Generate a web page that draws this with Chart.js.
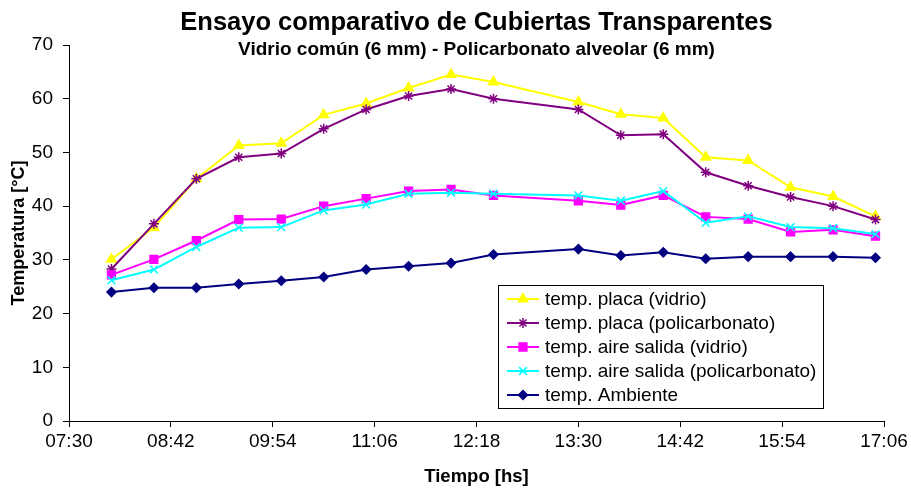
<!DOCTYPE html>
<html lang="es">
<head>
<meta charset="utf-8">
<title>Ensayo comparativo de Cubiertas Transparentes</title>
<script src="https://cdn.jsdelivr.net/npm/chart.js@4.4.1/dist/chart.umd.min.js"></script>
<style>
  html, body { margin: 0; padding: 0; background: #ffffff; }
  #contenedor { width: 911px; height: 488px; position: relative; }
</style>
</head>
<body>
<div id="contenedor"><canvas id="grafico" width="911" height="488"></canvas></div>
<script>
// Horas de medición (HH:MM)
const horas = ['08:00', '08:30', '09:00', '09:30', '10:00', '10:30', '11:00', '11:30', '12:00',
  '12:30', '13:30', '14:00', '14:30', '15:00', '15:30', '16:00', '16:30', '17:00'];

// Temperaturas [°C] de cada serie
const placaVidrio = [30.1, 36.0, 45.1, 51.3, 51.7, 57.0, 59.1, 62.0, 64.5, 63.1, 59.4, 57.1, 56.4, 49.1, 48.5, 43.5, 41.8, 38.1];
const placaPolicarbonato = [28.3, 36.7, 45.1, 49.1, 49.8, 54.4, 58.0, 60.5, 61.8, 60.0, 58.0, 53.2, 53.4, 46.3, 43.8, 41.7, 40.0, 37.5];
const aireVidrio = [27.2, 30.1, 33.6, 37.5, 37.6, 40.0, 41.4, 42.8, 43.1, 42.0, 41.0, 40.2, 42.0, 38.0, 37.6, 35.2, 35.6, 34.4];
const airePolicarbonato = [26.2, 28.2, 32.4, 36.0, 36.1, 39.2, 40.3, 42.3, 42.5, 42.3, 42.0, 41.0, 42.8, 36.9, 38.1, 36.1, 35.9, 34.8];
const ambiente = [24.0, 24.8, 24.8, 25.5, 26.1, 26.8, 28.2, 28.8, 29.4, 31.0, 32.0, 30.8, 31.4, 30.2, 30.6, 30.6, 30.6, 30.4];

// Eje X: de 07:30 a 17:06 cada 1:12
const ejeXInicio = '07:30';
const ejeXFin = '17:06';
const ejeXPaso = 72; // minutos

// Nombres de las series
const nombres = ['temp. placa (vidrio)', 'temp. placa (policarbonato)', 'temp. aire salida (vidrio)',
  'temp. aire salida (policarbonato)', 'temp. Ambiente'];

const fuente = "'Liberation Sans', Arial, sans-serif";

function aMinutos(hhmm) {
  const partes = hhmm.split(':');
  return parseInt(partes[0]) * 60 + parseInt(partes[1]);
}

function aHora(min) {
  const h = Math.floor(min / 60);
  const m = Math.round(min % 60);
  return String(h).padStart(2, '0') + ':' + String(m).padStart(2, '0');
}

function puntos(valores) {
  return valores.map((v, i) => ({ x: aMinutos(horas[i]), y: v }));
}

function serie(indice, valores, color, estilo, radio, orden) {
  return {
    label: nombres[indice],
    data: puntos(valores),
    borderColor: color,
    backgroundColor: color,
    borderWidth: 2,
    pointStyle: estilo,
    pointRadius: radio,
    pointHoverRadius: radio,
    pointBorderWidth: 1.5,
    pointBorderColor: color,
    pointBackgroundColor: color,
    order: orden,
    tension: 0
  };
}

// Títulos dibujados a mano (el subtítulo se superpone al área del gráfico)
const titulosPlugin = {
  id: 'titulos',
  afterDraw(chart) {
    const ctx = chart.ctx;
    const centro = (chart.chartArea.left + chart.chartArea.right) / 2;
    ctx.save();
    ctx.fillStyle = '#000000';
    ctx.textAlign = 'center';
    ctx.textBaseline = 'alphabetic';
    ctx.font = 'bold 25.5px ' + fuente;
    ctx.fillText('Ensayo comparativo de Cubiertas Transparentes', centro, 30);
    ctx.font = 'bold 19px ' + fuente;
    ctx.fillText('Vidrio común (6 mm) - Policarbonato alveolar (6 mm)', centro, 55);
    ctx.restore();
  }
};

// Leyenda con recuadro dentro del área del gráfico
const leyendaPlugin = {
  id: 'leyendaCaja',
  afterDraw(chart) {
    const ctx = chart.ctx;
    const caja = { x: 498.5, y: 285.5, w: 325, h: 123 };
    ctx.save();
    ctx.fillStyle = '#ffffff';
    ctx.fillRect(caja.x, caja.y, caja.w, caja.h);
    ctx.strokeStyle = '#000000';
    ctx.lineWidth = 1;
    ctx.strokeRect(caja.x, caja.y, caja.w, caja.h);
    chart.data.datasets.forEach((ds, i) => {
      const y = 299 + i * 24;
      ctx.strokeStyle = ds.borderColor;
      ctx.lineWidth = 2;
      ctx.beginPath();
      ctx.moveTo(507, y);
      ctx.lineTo(539, y);
      ctx.stroke();
      const opciones = {
        pointStyle: ds.pointStyle,
        radius: ds.pointRadius,
        borderWidth: ds.pointBorderWidth,
        rotation: 0
      };
      ctx.fillStyle = ds.backgroundColor;
      ctx.strokeStyle = ds.borderColor;
      ctx.lineWidth = ds.pointBorderWidth;
      Chart.helpers.drawPoint(ctx, opciones, 523, y);
      ctx.fillStyle = '#000000';
      ctx.font = '19px ' + fuente;
      ctx.textAlign = 'left';
      ctx.textBaseline = 'middle';
      ctx.fillText(ds.label, 545, y + 1);
    });
    ctx.restore();
  }
};

const ctx = document.getElementById('grafico').getContext('2d');
const chart = new Chart(ctx, {
  type: 'line',
  data: {
    datasets: [
      serie(0, placaVidrio, '#ffff00', 'triangle', 5.5, 5),
      serie(1, placaPolicarbonato, '#800080', 'star', 5, 4),
      serie(2, aireVidrio, '#ff00ff', 'rect', 5.5, 3),
      serie(3, airePolicarbonato, '#00ffff', 'crossRot', 5.5, 2),
      serie(4, ambiente, '#000080', 'rectRot', 4.5, 1)
    ]
  },
  options: {
    responsive: false,
    animation: false,
    layout: { padding: { top: 45, right: 27, bottom: 0, left: 0 } },
    plugins: {
      legend: { display: false },
      title: { display: false },
      tooltip: { enabled: false }
    },
    scales: {
      x: {
        type: 'linear',
        min: aMinutos(ejeXInicio),
        max: aMinutos(ejeXFin),
        afterFit(scale) { scale.height = 67; },
        grid: { drawOnChartArea: false, drawTicks: true, tickLength: 6, color: '#000000' },
        border: { color: '#000000', width: 1 },
        ticks: {
          stepSize: ejeXPaso,
          color: '#000000',
          padding: 3,
          maxRotation: 0,
          font: { family: fuente, size: 19 },
          callback: (v) => aHora(v)
        },
        title: {
          display: true,
          text: 'Tiempo [hs]',
          color: '#000000',
          padding: { top: 0, bottom: 0 },
          font: { family: fuente, size: 18.5, weight: 'bold' }
        }
      },
      y: {
        min: 0,
        max: 70,
        afterFit(scale) { scale.width = 69; },
        grid: { drawOnChartArea: false, drawTicks: true, tickLength: 6, color: '#000000' },
        border: { color: '#000000', width: 1 },
        ticks: {
          stepSize: 10,
          color: '#000000',
          padding: 10,
          font: { family: fuente, size: 19 }
        },
        title: {
          display: true,
          text: 'Temperatura [°C]',
          color: '#000000',
          padding: { top: 8, bottom: 0 },
          font: { family: fuente, size: 18, weight: 'bold' }
        }
      }
    }
  },
  plugins: [titulosPlugin, leyendaPlugin]
});
</script>
</body>
</html>
